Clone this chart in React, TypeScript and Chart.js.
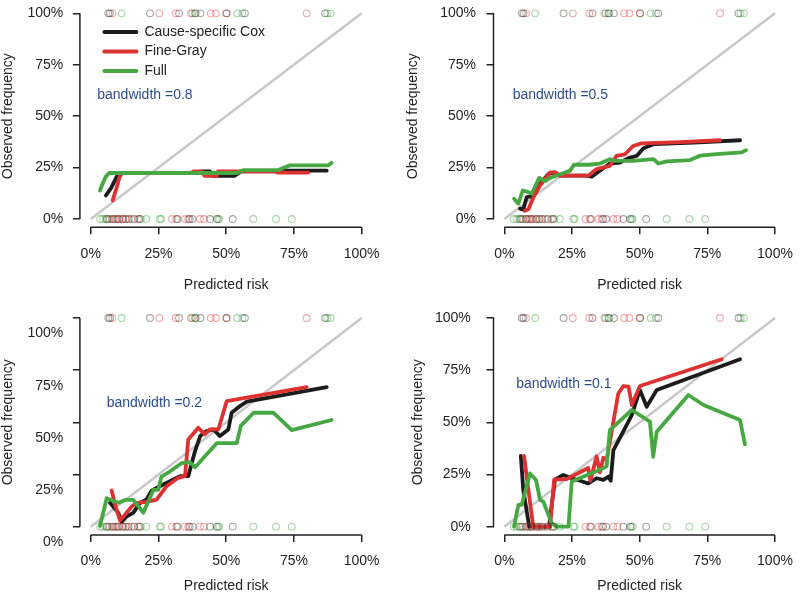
import React, { useEffect, useRef } from "react";
import { Chart, registerables } from "chart.js";
Chart.register(...registerables);

const FONT = "'Liberation Sans', Arial, Helvetica, sans-serif";
const SERIES_LABELS = ["Cause-specific Cox", "Fine-Gray", "Full"];
const SERIES_COLORS = ["#1c1c1c", "#dc3232", "#47a843"];
const RUG_COLORS = ["rgba(30,30,30,0.4)", "rgba(220,50,50,0.42)", "rgba(60,165,60,0.45)"];
const X_TICKS = [0, 0.25, 0.5, 0.75, 1];
const Y_TICKS = [0, 0.25, 0.5, 0.75, 1];
const DIAGONAL = [[0, 0], [1, 1]];
const BANDWIDTHS = ["0.8", "0.5", "0.2", "0.1"];
const BW_POS_X = [0.2, 0.207, 0.235, 0.22];
const BW_POS_Y = [0.6, 0.6, 0.59, 0.685];

// rug marks (predicted risks), top = events, bottom = non-events
const RUG_TOP_COX = [0.065, 0.071, 0.219, 0.326, 0.385, 0.405, 0.502, 0.569, 0.865];
const RUG_TOP_FG = [0.080, 0.253, 0.314, 0.370, 0.443, 0.462, 0.500, 0.797];
const RUG_TOP_FULL = [0.114, 0.375, 0.388, 0.541, 0.560, 0.873, 0.885];
const RUG_BOT_COX = [0.06, 0.08, 0.10, 0.12, 0.14, 0.16, 0.18, 0.32, 0.365, 0.376, 0.44, 0.465, 0.524];
const RUG_BOT_FG = [0.07, 0.085, 0.095, 0.105, 0.115, 0.13, 0.15, 0.175, 0.30, 0.316, 0.348, 0.36, 0.403, 0.418];
const RUG_BOT_FULL = [0.035, 0.045, 0.055, 0.065, 0.09, 0.13, 0.185, 0.205, 0.255, 0.26, 0.47, 0.474, 0.60, 0.684, 0.742];

// bandwidth 0.8
const BW08_COX = [[0.056, 0.115], [0.075, 0.15], [0.096, 0.206], [0.106, 0.224], [0.40, 0.224], [0.41, 0.232], [0.44, 0.232], [0.45, 0.21], [0.53, 0.21], [0.555, 0.232], [0.69, 0.232], [0.70, 0.235], [0.871, 0.235]];
const BW08_FG = [[0.081, 0.091], [0.095, 0.15], [0.106, 0.203], [0.115, 0.224], [0.37, 0.224], [0.38, 0.232], [0.41, 0.232], [0.42, 0.21], [0.465, 0.21], [0.47, 0.232], [0.68, 0.232], [0.69, 0.226], [0.803, 0.226]];
const BW08_FULL = [[0.034, 0.139], [0.045, 0.175], [0.055, 0.205], [0.068, 0.224], [0.54, 0.224], [0.563, 0.238], [0.692, 0.238], [0.735, 0.261], [0.877, 0.261], [0.889, 0.274]];

// bandwidth 0.5
const BW05_COX = [[0.058, 0.051], [0.070, 0.046], [0.083, 0.107], [0.101, 0.110], [0.132, 0.171], [0.163, 0.219], [0.187, 0.227], [0.206, 0.211], [0.30, 0.211], [0.323, 0.206], [0.353, 0.235], [0.390, 0.270], [0.427, 0.275], [0.464, 0.299], [0.489, 0.307], [0.514, 0.344], [0.551, 0.364], [0.70, 0.372], [0.871, 0.383]];
const BW05_FG = [[0.076, 0.040], [0.089, 0.048], [0.107, 0.104], [0.132, 0.163], [0.169, 0.227], [0.187, 0.227], [0.206, 0.211], [0.310, 0.211], [0.341, 0.243], [0.390, 0.259], [0.415, 0.307], [0.446, 0.315], [0.476, 0.355], [0.507, 0.368], [0.65, 0.374], [0.797, 0.383]];
const BW05_FULL = [[0.036, 0.099], [0.052, 0.075], [0.068, 0.139], [0.089, 0.131], [0.101, 0.123], [0.129, 0.2], [0.150, 0.184], [0.169, 0.2], [0.206, 0.218], [0.243, 0.235], [0.257, 0.264], [0.316, 0.264], [0.353, 0.27], [0.390, 0.291], [0.409, 0.283], [0.476, 0.283], [0.551, 0.291], [0.569, 0.27], [0.600, 0.280], [0.686, 0.287], [0.723, 0.308], [0.784, 0.316], [0.877, 0.324], [0.893, 0.335]];

// bandwidth 0.2
const BW02_COX = [[0.071, 0.114], [0.102, 0.066], [0.114, 0.023], [0.133, 0.050], [0.157, 0.066], [0.182, 0.114], [0.206, 0.130], [0.225, 0.173], [0.255, 0.194], [0.305, 0.226], [0.330, 0.242], [0.360, 0.242], [0.385, 0.362], [0.404, 0.434], [0.428, 0.458], [0.453, 0.466], [0.477, 0.434], [0.508, 0.466], [0.520, 0.546], [0.551, 0.578], [0.576, 0.599], [0.871, 0.669]];
const BW02_FG = [[0.077, 0.173], [0.090, 0.106], [0.108, 0.029], [0.127, 0.058], [0.152, 0.098], [0.170, 0.114], [0.206, 0.119], [0.243, 0.130], [0.280, 0.194], [0.323, 0.234], [0.348, 0.242], [0.360, 0.418], [0.397, 0.474], [0.421, 0.442], [0.440, 0.466], [0.471, 0.466], [0.502, 0.602], [0.797, 0.669]];
const BW02_FULL = [[0.034, 0.003], [0.059, 0.136], [0.102, 0.115], [0.127, 0.128], [0.157, 0.128], [0.194, 0.067], [0.231, 0.176], [0.249, 0.176], [0.261, 0.240], [0.292, 0.264], [0.335, 0.304], [0.366, 0.309], [0.385, 0.285], [0.465, 0.400], [0.539, 0.400], [0.554, 0.483], [0.601, 0.546], [0.674, 0.546], [0.742, 0.463], [0.889, 0.511]];

// bandwidth 0.1
const BW01_COX = [[0.061, 0.339], [0.070, 0.176], [0.092, 0.0], [0.165, 0.0], [0.187, 0.225], [0.218, 0.248], [0.249, 0.232], [0.280, 0.22], [0.310, 0.207], [0.341, 0.232], [0.366, 0.224], [0.385, 0.24], [0.393, 0.22], [0.403, 0.367], [0.428, 0.428], [0.471, 0.535], [0.501, 0.655], [0.526, 0.575], [0.563, 0.655], [0.871, 0.802]];
const BW01_FG = [[0.073, 0.339], [0.089, 0.176], [0.107, 0.0], [0.169, 0.0], [0.184, 0.225], [0.230, 0.228], [0.310, 0.281], [0.318, 0.22], [0.341, 0.337], [0.353, 0.26], [0.366, 0.33], [0.378, 0.318], [0.392, 0.42], [0.421, 0.638], [0.440, 0.674], [0.459, 0.671], [0.471, 0.583], [0.501, 0.674], [0.803, 0.802]];
const BW01_FULL = [[0.036, 0.0], [0.052, 0.104], [0.064, 0.104], [0.095, 0.255], [0.117, 0.224], [0.132, 0.128], [0.144, 0.120], [0.175, 0.017], [0.194, 0.0], [0.237, 0.0], [0.249, 0.216], [0.353, 0.273], [0.378, 0.289], [0.390, 0.463], [0.471, 0.559], [0.538, 0.503], [0.550, 0.335], [0.563, 0.455], [0.680, 0.631], [0.736, 0.583], [0.871, 0.511], [0.889, 0.394]];

const CURVES = [
  [BW08_COX, BW08_FG, BW08_FULL],
  [BW05_COX, BW05_FG, BW05_FULL],
  [BW02_COX, BW02_FG, BW02_FULL],
  [BW01_COX, BW01_FG, BW01_FULL],
];

// layout of the four panels (pixels)
const PANELS = [
  { left: 0, top: 0, padTop: 2.4, padRight: 27.5, yW: 79.9, xH: 70.7, yTitlePad: 0, yTickPad: 9.6, xTickPad: 11.5, xTitlePad: 4.6, yLabelOffset: 0, legend: true },
  { left: 400, top: 0, padTop: 2.4, padRight: 14.2, yW: 93.5, xH: 70.7, yTitlePad: 4.6, yTickPad: 10.5, xTickPad: 11.5, xTitlePad: 4.6, yLabelOffset: 0, legend: false },
  { left: 0, top: 298, padTop: 11.65, padRight: 27.5, yW: 79.9, xH: 61, yTitlePad: 0, yTickPad: 9.6, xTickPad: 11.2, xTitlePad: 1.3, yLabelOffset: 15.5, legend: false },
  { left: 400, top: 298, padTop: 11.65, padRight: 14.2, yW: 93.5, xH: 61, yTitlePad: 9.9, yTickPad: 15.8, xTickPad: 11.2, xTitlePad: 1.3, yLabelOffset: 0, legend: false },
];

const toXY = (pts: number[][]) => pts.map(([x, y]) => ({ x, y }));

function Panel({ idx }: { idx: number }) {
  const ref = useRef<HTMLCanvasElement>(null);
  const p = PANELS[idx];
  useEffect(() => {
    const ctx = ref.current!.getContext("2d")!;
    const datasets: any[] = [];
    // diagonal
    datasets.push({
      data: toXY(DIAGONAL), showLine: true, borderColor: "#c8c8c8", borderWidth: 2.5,
      pointRadius: 0, order: 6, clip: false,
    });
    // rugs
    const tops = [RUG_TOP_COX, RUG_TOP_FG, RUG_TOP_FULL];
    const bots = [RUG_BOT_COX, RUG_BOT_FG, RUG_BOT_FULL];
    for (let m = 0; m < 3; m++) {
      datasets.push({
        data: tops[m].map((x) => ({ x, y: 1 })), showLine: false, pointRadius: 3.4,
        pointBorderWidth: 1.1, pointBorderColor: RUG_COLORS[m], pointBackgroundColor: "rgba(0,0,0,0)",
        order: 1, clip: false,
      });
      datasets.push({
        data: bots[m].map((x) => ({ x, y: 0 })), showLine: false, pointRadius: 3.4,
        pointBorderWidth: 1.1, pointBorderColor: RUG_COLORS[m], pointBackgroundColor: "rgba(0,0,0,0)",
        order: 1, clip: false,
      });
    }
    // curves (green on top)
    const curveOrder = [4, 3, 2];
    for (let m = 0; m < 3; m++) {
      datasets.push({
        label: SERIES_LABELS[m], data: toXY(CURVES[idx][m]), showLine: true,
        borderColor: SERIES_COLORS[m], borderWidth: 3.8, pointRadius: 0, tension: 0,
        borderCapStyle: "round", borderJoinStyle: "round", order: curveOrder[m], clip: false,
      });
    }

    const decor = {
      id: "decor",
      afterDraw(chart: any) {
        const c = chart.ctx;
        const xs = chart.scales.x, ys = chart.scales.y;
        const ca = chart.chartArea;
        c.save();
        c.strokeStyle = "#222";
        c.lineWidth = 1.5;
        c.beginPath();
        c.moveTo(xs.getPixelForValue(X_TICKS[0]), ca.bottom);
        c.lineTo(xs.getPixelForValue(X_TICKS[X_TICKS.length - 1]), ca.bottom);
        c.moveTo(ca.left, ys.getPixelForValue(Y_TICKS[0]));
        c.lineTo(ca.left, ys.getPixelForValue(Y_TICKS[Y_TICKS.length - 1]));
        c.stroke();
        // bandwidth text
        c.fillStyle = "#2d4d8c";
        c.font = `14px ${FONT}`;
        c.textAlign = "center";
        c.textBaseline = "middle";
        c.fillText("bandwidth =" + BANDWIDTHS[idx], xs.getPixelForValue(BW_POS_X[idx]), ys.getPixelForValue(BW_POS_Y[idx]));
        // legend
        if (p.legend) {
          const x0 = ca.left + 24.5;
          let y0 = ca.top + 27;
          for (let m = 0; m < 3; m++) {
            c.strokeStyle = SERIES_COLORS[m];
            c.lineWidth = 4;
            c.lineCap = "round";
            c.beginPath();
            c.moveTo(x0, y0);
            c.lineTo(x0 + 32, y0);
            c.stroke();
            c.fillStyle = "#222";
            c.textAlign = "left";
            c.fillText(SERIES_LABELS[m], x0 + 40, y0);
            y0 += 19.5;
          }
        }
        c.restore();
      },
    };

    const tickFont = { family: FONT, size: 14 };
    const chart = new Chart(ctx, {
      type: "scatter",
      data: { datasets },
      options: {
        animation: false,
        responsive: false,
        devicePixelRatio: 1,
        layout: { padding: { left: 0, top: p.padTop, right: p.padRight, bottom: 0 } },
        plugins: { legend: { display: false }, tooltip: { enabled: false } },
        scales: {
          x: {
            type: "linear", min: -0.04, max: 1.04,
            afterBuildTicks: (s: any) => { s.ticks = X_TICKS.map((v) => ({ value: v })); },
            afterFit: (s: any) => { s.height = p.xH; s.paddingLeft = 0; s.paddingRight = 0; },
            ticks: {
              callback: (v: any) => Math.round(Number(v) * 100) + "%",
              color: "#222", font: tickFont, padding: p.xTickPad, maxRotation: 0, autoSkip: false,
            },
            grid: { drawOnChartArea: false, drawTicks: true, tickLength: 7, color: "#222", lineWidth: 1.5 },
            border: { display: false },
            title: { display: true, text: "Predicted risk", color: "#222", font: tickFont, padding: { top: 0, bottom: p.xTitlePad } },
          },
          y: {
            type: "linear", min: -0.04, max: 1.04,
            afterBuildTicks: (s: any) => { s.ticks = Y_TICKS.map((v) => ({ value: v })); },
            afterFit: (s: any) => { s.width = p.yW; s.paddingTop = 0; s.paddingBottom = 0; },
            ticks: {
              callback: (v: any) => Math.round(Number(v) * 100) + "%",
              color: "#222", font: tickFont, padding: p.yTickPad, autoSkip: false, labelOffset: p.yLabelOffset,
            },
            grid: { drawOnChartArea: false, drawTicks: true, tickLength: 7, color: "#222", lineWidth: 1.5 },
            border: { display: false },
            title: { display: true, text: "Observed frequency", color: "#222", font: tickFont, padding: { top: p.yTitlePad, bottom: 0 } },
          },
        },
      } as any,
      plugins: [decor],
    });
    return () => chart.destroy();
  }, [idx]);
  return (
    <canvas
      ref={ref}
      width={400}
      height={298}
      style={{ position: "absolute", left: p.left, top: p.top, width: 400, height: 298 }}
    />
  );
}

export default function App() {
  return (
    <div style={{ position: "absolute", left: 0, top: 0, width: 800, height: 596, background: "#fff", overflow: "hidden" }}>
      {PANELS.map((_, i) => (
        <Panel key={i} idx={i} />
      ))}
    </div>
  );
}
